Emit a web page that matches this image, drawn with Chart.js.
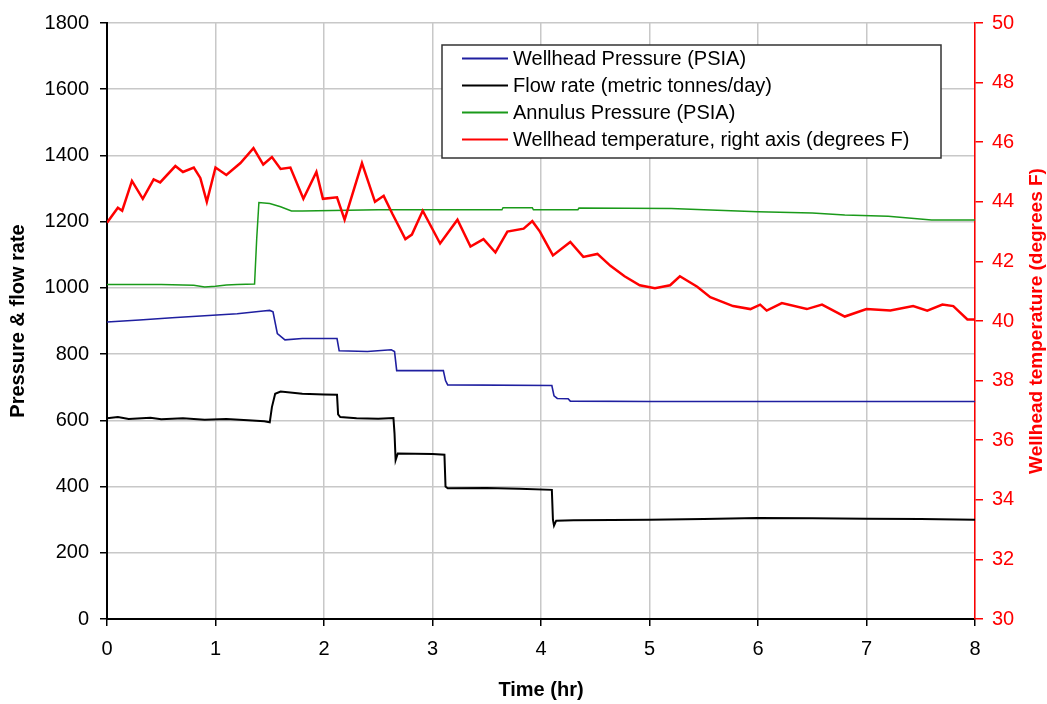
<!DOCTYPE html>
<html>
<head>
<meta charset="utf-8">
<title>Wellhead test</title>
<script src="https://cdn.jsdelivr.net/npm/chart.js@4.4.0/dist/chart.umd.min.js"></script>
<style>
  html, body { margin: 0; padding: 0; background: #fff; }
  #wrap { width: 1047px; height: 704px; }
</style>
</head>
<body>
<div id="wrap"><canvas id="wellChart" width="1047" height="704"></canvas></div>
<script>
// Values (time in hours)
const whpTime  = [0, 0.3, 0.6, 0.9, 1.2, 1.44, 1.5, 1.53, 1.57, 1.64, 1.8, 2.12, 2.14, 2.4, 2.62, 2.65, 2.67, 3.1, 3.12, 3.14, 4.1, 4.12, 4.15, 4.25, 4.27, 5, 6, 7, 8];
const whpPsia  = [897, 903, 910, 916, 922, 930, 932, 928, 862, 843, 847, 847, 810, 808, 813, 808, 750, 750, 720, 707, 705, 674, 666, 665, 658, 657, 657, 657, 657];

const flowTime = [0, 0.1, 0.2, 0.4, 0.5, 0.7, 0.9, 1.1, 1.3, 1.45, 1.5, 1.52, 1.55, 1.6, 1.8, 2.0, 2.12, 2.13, 2.15, 2.3, 2.5, 2.64, 2.65, 2.66, 2.68, 3.0, 3.11, 3.12, 3.14, 3.5, 3.8, 4.1, 4.11, 4.12, 4.14, 4.3, 5, 5.5, 6, 6.5, 7, 7.5, 8];
const flowRate = [606, 610, 604, 608, 603, 606, 602, 604, 600, 597, 594, 640, 680, 687, 680, 678, 677, 618, 610, 606, 605, 607, 560, 480, 500, 498, 496, 400, 395, 396, 393, 390, 300, 282, 297, 298, 300, 302, 305, 304, 303, 302, 300];

const annTime  = [0, 0.5, 0.8, 0.9, 1.0, 1.1, 1.2, 1.36, 1.38, 1.4, 1.5, 1.6, 1.7, 1.8, 2.5, 3.64, 3.65, 3.92, 3.93, 4.34, 4.35, 5.2, 5.5, 6.0, 6.5, 6.8, 7.2, 7.6, 8];
const annPsia  = [1010, 1010, 1008, 1003, 1005, 1009, 1010, 1012, 1150, 1258, 1255, 1245, 1232, 1232, 1236, 1236, 1242, 1242, 1236, 1236, 1241, 1240, 1236, 1230, 1226, 1220, 1216, 1205, 1205];

const tempTime = [0, 0.1, 0.14, 0.23, 0.33, 0.43, 0.49, 0.63, 0.7, 0.8, 0.86, 0.92, 1.0, 1.1, 1.23, 1.35, 1.44, 1.52, 1.6, 1.69, 1.81, 1.93, 1.99, 2.12, 2.19, 2.35, 2.47, 2.55, 2.63, 2.75, 2.81, 2.91, 3.07, 3.23, 3.35, 3.47, 3.58, 3.69, 3.84, 3.92, 3.99, 4.11, 4.27, 4.39, 4.52, 4.64, 4.77, 4.91, 5.05, 5.19, 5.28, 5.44, 5.56, 5.77, 5.93, 6.02, 6.08, 6.22, 6.45, 6.59, 6.8, 7.0, 7.22, 7.43, 7.56, 7.7, 7.8, 7.93, 8];
const tempF    = [43.3, 43.8, 43.7, 44.7, 44.1, 44.75, 44.65, 45.2, 45.0, 45.15, 44.8, 44.0, 45.15, 44.9, 45.3, 45.8, 45.25, 45.5, 45.1, 45.15, 44.1, 45.0, 44.1, 44.15, 43.4, 45.3, 44.0, 44.2, 43.6, 42.75, 42.9, 43.7, 42.6, 43.4, 42.5, 42.75, 42.3, 43.0, 43.1, 43.35, 43.0, 42.2, 42.65, 42.15, 42.25, 41.85, 41.5, 41.2, 41.1, 41.2, 41.5, 41.15, 40.8, 40.5, 40.4, 40.55, 40.35, 40.6, 40.4, 40.55, 40.15, 40.4, 40.35, 40.5, 40.35, 40.55, 40.5, 40.05, 40.05];

const seriesLabels = [
  'Wellhead Pressure (PSIA)',
  'Flow rate (metric tonnes/day)',
  'Annulus Pressure (PSIA)',
  'Wellhead temperature, right axis (degrees F)'
];

const FONT = '"Liberation Sans", Arial, sans-serif';

function pairs(xs, ys) {
  return xs.map((x, i) => ({ x: x, y: ys[i] }));
}

// Legend with a framed box, drawn inside the plot like the original
const boxLegend = {
  id: 'boxLegend',
  afterDraw(chart) {
    const ctx = chart.ctx;
    const a = chart.chartArea;
    const x = a.left + 335, y = a.top + 22, w = 499, h = 113;
    ctx.save();
    ctx.fillStyle = '#fff';
    ctx.fillRect(x, y, w, h);
    ctx.strokeStyle = '#333';
    ctx.lineWidth = 1.5;
    ctx.strokeRect(x, y, w, h);
    ctx.font = '20px ' + FONT;
    ctx.textBaseline = 'middle';
    chart.data.datasets.forEach((ds, i) => {
      const cy = y + 13.5 + i * 27;
      ctx.strokeStyle = ds.borderColor;
      ctx.lineWidth = 2;
      ctx.beginPath();
      ctx.moveTo(x + 20, cy);
      ctx.lineTo(x + 66, cy);
      ctx.stroke();
      ctx.fillStyle = '#000';
      ctx.fillText(ds.label, x + 71, cy + 1);
    });
    ctx.restore();
  }
};

// Right axis title reads bottom-to-top in the original
const rightTitle = {
  id: 'rightTitle',
  afterDraw(chart) {
    const ctx = chart.ctx;
    const a = chart.chartArea;
    ctx.save();
    ctx.translate(1037, (a.top + a.bottom) / 2);
    ctx.rotate(-Math.PI / 2);
    ctx.font = 'bold 19px ' + FONT;
    ctx.fillStyle = '#ff0000';
    ctx.textAlign = 'center';
    ctx.textBaseline = 'middle';
    ctx.fillText('Wellhead temperature (degrees F)', 0, 0);
    ctx.restore();
  }
};

const gridColor = '#c8c8c8';
const plain = v => String(v);

new Chart(document.getElementById('wellChart'), {
  type: 'line',
  data: {
    datasets: [
      {
        label: seriesLabels[0],
        data: pairs(whpTime, whpPsia),
        borderColor: '#1f1fa0',
        borderWidth: 1.6,
        yAxisID: 'y',
        order: 4
      },
      {
        label: seriesLabels[1],
        data: pairs(flowTime, flowRate),
        borderColor: '#000000',
        borderWidth: 2,
        yAxisID: 'y',
        order: 3
      },
      {
        label: seriesLabels[2],
        data: pairs(annTime, annPsia),
        borderColor: '#1a9a1a',
        borderWidth: 1.5,
        yAxisID: 'y',
        order: 2
      },
      {
        label: seriesLabels[3],
        data: pairs(tempTime, tempF),
        borderColor: '#ff0000',
        borderWidth: 2.5,
        yAxisID: 'y1',
        order: 1
      }
    ]
  },
  options: {
    responsive: false,
    animation: false,
    elements: {
      point: { radius: 0 },
      line: { tension: 0, fill: false }
    },
    layout: { padding: { top: 20, left: 0, right: 0, bottom: 0 } },
    plugins: {
      legend: { display: false },
      tooltip: { enabled: false }
    },
    scales: {
      x: {
        type: 'linear',
        min: 0,
        max: 8,
        afterFit: s => { s.height = 85; },
        ticks: { stepSize: 1, color: '#000', font: { family: FONT, size: 20 }, padding: 11, maxRotation: 0, callback: plain },
        grid: { color: gridColor, lineWidth: 1.5, tickColor: '#000', tickLength: 7 },
        border: { color: '#000', width: 2 },
        title: { display: true, text: 'Time (hr)', color: '#000', font: { family: FONT, size: 20, weight: 'bold' }, padding: { top: 0, bottom: 2 } }
      },
      y: {
        position: 'left',
        min: 0,
        max: 1800,
        afterFit: s => { s.width = 107; },
        ticks: { stepSize: 200, color: '#000', font: { family: FONT, size: 20 }, padding: 11, callback: plain },
        grid: { color: gridColor, lineWidth: 1.5, tickColor: '#000', tickLength: 7 },
        border: { color: '#000', width: 2 },
        title: { display: true, text: 'Pressure & flow rate', color: '#000', font: { family: FONT, size: 20, weight: 'bold' }, padding: { top: 6, bottom: 0 } }
      },
      y1: {
        position: 'right',
        min: 30,
        max: 50,
        afterFit: s => { s.width = 72; },
        ticks: { stepSize: 2, color: '#ff0000', font: { family: FONT, size: 20 }, padding: 9, callback: plain },
        grid: { drawOnChartArea: false, tickColor: '#ff0000', tickLength: 8, lineWidth: 1.5 },
        border: { color: '#ff0000', width: 1.5 }
      }
    }
  },
  plugins: [boxLegend, rightTitle]
});
</script>
</body>
</html>
